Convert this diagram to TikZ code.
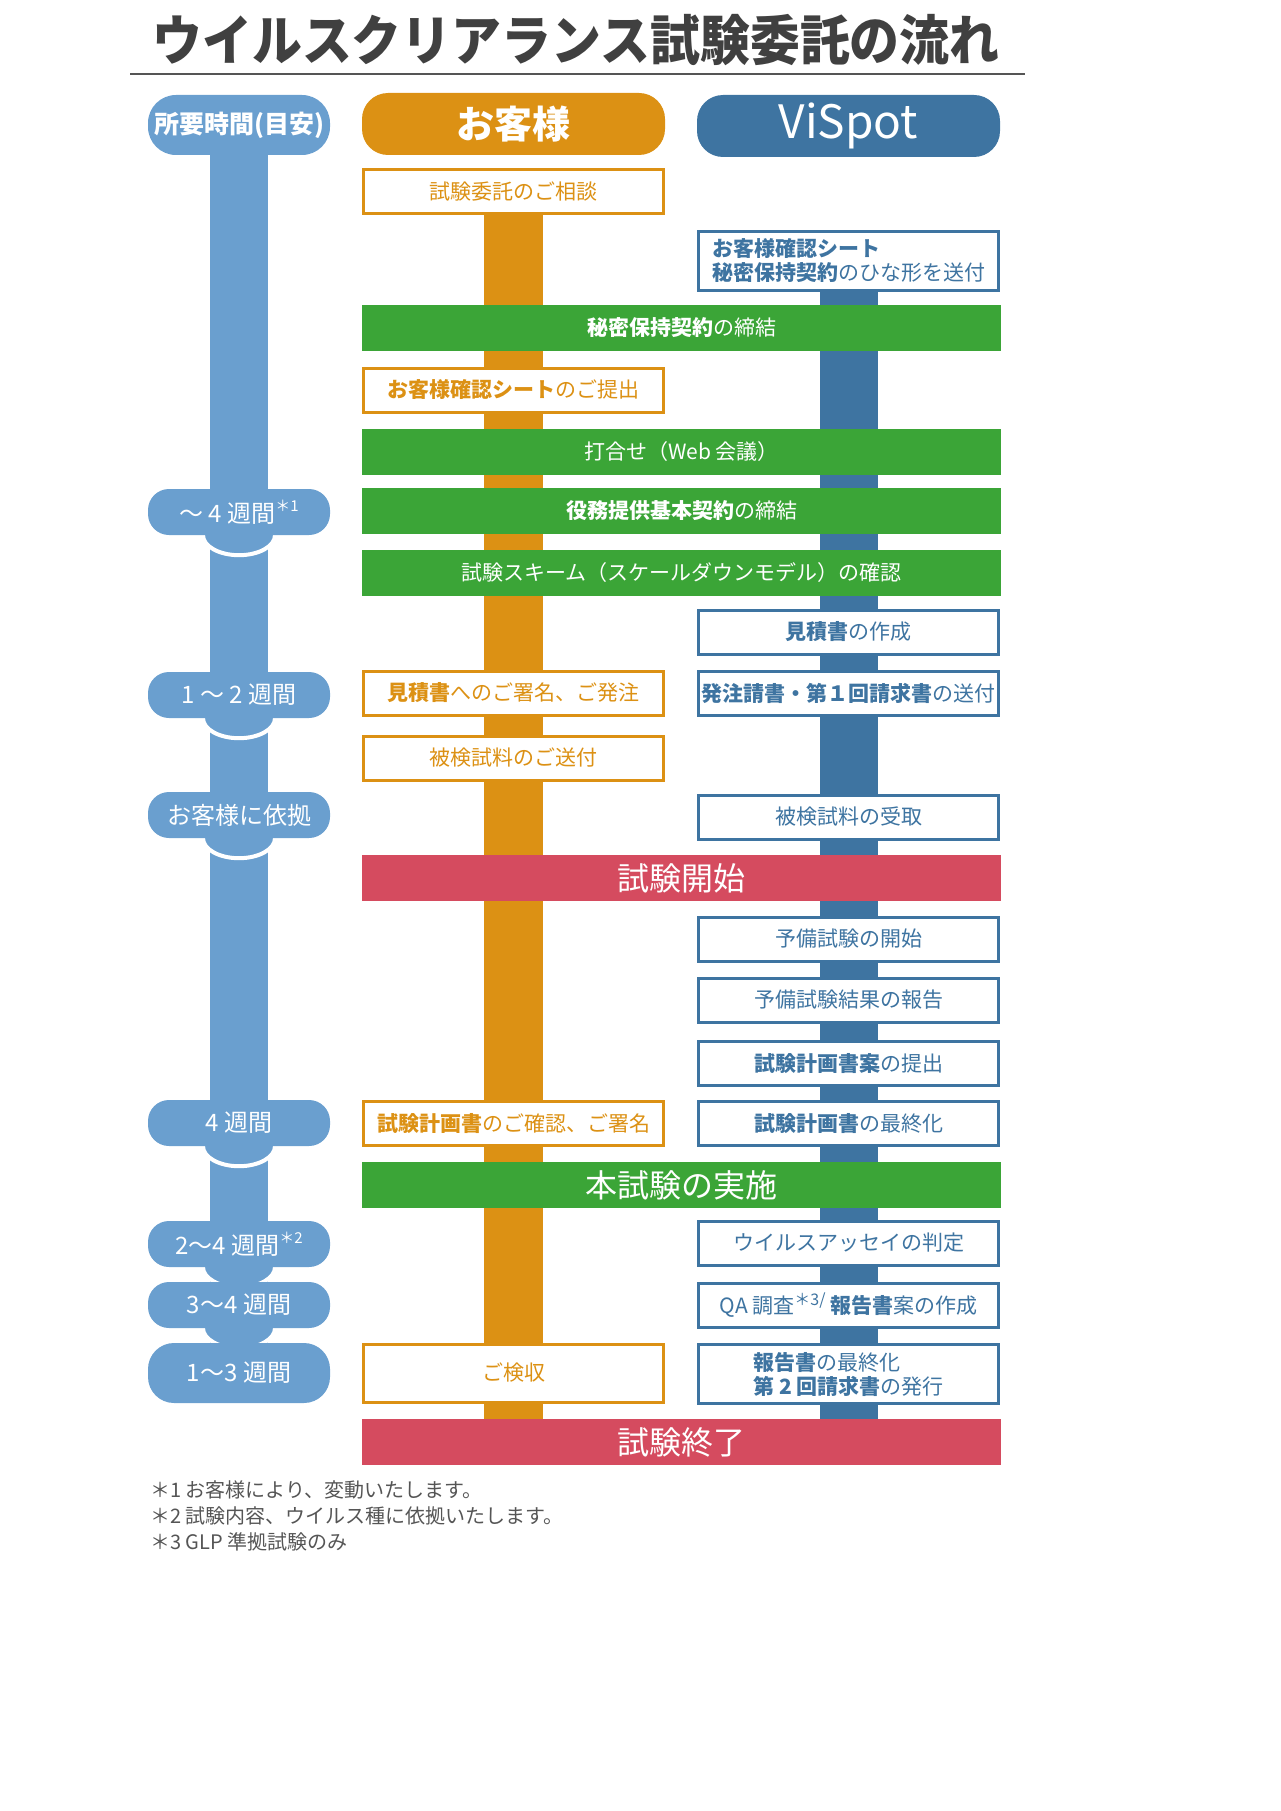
\documentclass[tikz,border=0pt]{standalone}
\usepackage{fontspec}
\setmainfont{Noto Sans CJK JP}
\usetikzlibrary{backgrounds}
\definecolor{timeblue}{HTML}{6A9FCF}
\definecolor{custorange}{HTML}{DC9114}
\definecolor{visblue}{HTML}{3E74A1}
\definecolor{stepgreen}{HTML}{3BA537}
\definecolor{stepred}{HTML}{D54B5F}
\definecolor{titlegray}{HTML}{404040}
\definecolor{notegray}{HTML}{555555}
\newcommand{\fs}[1]{\fontsize{#1}{#1}\selectfont}
\newcommand{\noteref}[1]{\raisebox{0.45em}{\fs{15}＊#1}}
\begin{document}
\begin{tikzpicture}[x=1pt,y=-1pt,
    head/.style={rounded corners=26pt, minimum width=303pt, minimum height=62pt, text=white},
    timepill/.style={fill=timeblue, text=white, rounded corners=21pt, minimum width=182pt, minimum height=46pt, font=\fs{24}},
    custbox/.style={draw=custorange, fill=white, line width=3pt, text=custorange, minimum width=300pt, minimum height=44pt, font=\fs{21}},
    visbox/.style={custbox, draw=visblue, text=visblue},
    twoline/.style={minimum height=59pt, align=left, font=\fontsize{21}{24}\selectfont},
    stepbar/.style={fill=stepgreen, text=white, minimum width=639pt, minimum height=46pt, font=\fs{21}},
    redbar/.style={stepbar, fill=stepred, font=\fs{32}},
    bump/.style={fill=timeblue, draw=white, line width=4pt},
    note/.style={anchor=west, text=notegray, font=\fs{20}}]
    \tikzstyle{every node}+=[inner sep=0pt]
    \useasboundingbox (0,0) rectangle (1280,1811);
    % title
    \node[font=\fs{54}\bfseries, text=titlegray] (title) at (576,40) {\scalebox{0.924}[1]{ウイルスクリアランス試験委託の流れ}};
    \coordinate (ruleL) at (130,74);
    \coordinate (ruleR) at (1025,74);
    \draw[notegray, line width=2pt] (ruleL) -- (ruleR);
    % column heads
    \node[timepill, rounded corners=28pt, minimum height=60pt, font=\fs{25}\bfseries] (thead) at (239,125) {所要時間(目安)};
    \node[head, fill=custorange, font=\fs{38}\bfseries] (chead) at (513.5,124) {お客様};
    \node[head, fill=visblue, font=\fs{46}] (vhead) at (848.5,126) {ViSpot};
    % time column
    \node[timepill] (t1) at (239,512) {～ 4 週間\noteref{1}};
    \node[timepill] (t2) at (239,695) {1 ～ 2 週間};
    \node[timepill] (t3) at (239,815) {お客様に依拠};
    \node[timepill] (t4) at (239,1123) {4 週間};
    \node[timepill] (t5) at (239,1244) {2～4 週間\noteref{2}};
    \node[timepill] (t6) at (239,1305) {3～4 週間};
    \node[timepill, minimum height=60pt, rounded corners=26pt] (t7) at (239,1373) {1～3 週間};
    % customer column
    \node[custbox] (c1) at (513.5,192) {試験委託のご相談};
    \node[custbox] (c2) at (513.5,390) {\textbf{お客様確認シート}のご提出};
    \node[custbox] (c3) at (513.5,693) {\textbf{見積書}へのご署名、ご発注};
    \node[custbox] (c4) at (513.5,758) {被検試料のご送付};
    \node[custbox] (c5) at (513.5,1123) {\textbf{試験計画書}のご確認、ご署名};
    \node[custbox, minimum height=58pt] (c6) at (513.5,1373) {ご検収};
    % ViSpot column
    \node[visbox, twoline] (v1) at (848.5,261) {\textbf{お客様確認シート}\\\textbf{秘密保持契約}のひな形を送付};
    \node[visbox] (v2) at (848.5,632) {\textbf{見積書}の作成};
    \node[visbox] (v3) at (848.5,693) {\textbf{発注請書・第１回請求書}の送付};
    \node[visbox] (v4) at (848.5,817) {被検試料の受取};
    \node[visbox] (v5) at (848.5,939) {予備試験の開始};
    \node[visbox] (v6) at (848.5,1000) {予備試験結果の報告};
    \node[visbox] (v7) at (848.5,1063) {\textbf{試験計画書案}の提出};
    \node[visbox] (v8) at (848.5,1123) {\textbf{試験計画書}の最終化};
    \node[visbox] (v9) at (848.5,1243) {ウイルスアッセイの判定};
    \node[visbox] (v10) at (848.5,1305) {QA 調査\raisebox{0.35em}{\fs{16}＊3/} \textbf{報告書}案の作成};
    \node[visbox, twoline] (v11) at (848.5,1374) {\textbf{報告書}の最終化\\\textbf{第 2 回請求書}の発行};
    % shared steps
    \node[stepbar] (g1) at (681.5,328) {\textbf{秘密保持契約}の締結};
    \node[stepbar] (g2) at (681.5,452) {打合せ（Web 会議）};
    \node[stepbar] (g3) at (681.5,511) {\textbf{役務提供基本契約}の締結};
    \node[stepbar] (g4) at (681.5,573) {試験スキーム（スケールダウンモデル）の確認};
    \node[redbar] (r1) at (681.5,878) {試験開始};
    \node[stepbar, font=\fs{32}] (g5) at (681.5,1185) {本試験の実施};
    \node[redbar] (r2) at (681.5,1442) {試験終了};
    % notes
    \node[note] (n1) at (150,1490) {＊1 お客様により、変動いたします。};
    \node[note] (n2) at (150,1516) {＊2 試験内容、ウイルス種に依拠いたします。};
    \node[note] (n3) at (150,1542) {＊3 GLP 準拠試験のみ};
    % bars behind
    \begin{scope}[on background layer]
        \draw[timeblue, line width=58pt] (thead.center) -- (t7.center);
        \foreach \p in {t1,t2,t3,t4,t5,t6}
            \draw[bump] (\p.south) ellipse [x radius=36pt, y radius=20pt];
        \draw[custorange, line width=59pt] (c1.center) -- (c1 |- r2.center);
        \draw[visblue, line width=58pt] (v1.center) -- (v1 |- r2.center);
    \end{scope}
\end{tikzpicture}
\end{document}
